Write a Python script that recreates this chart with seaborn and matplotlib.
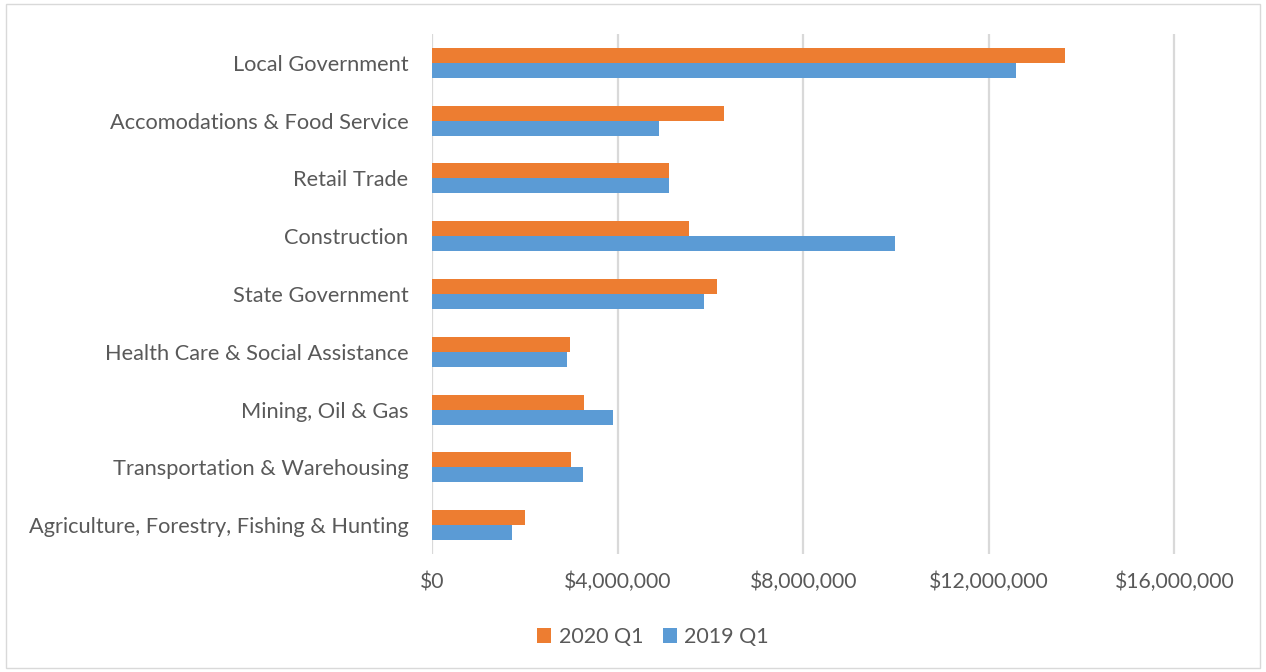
import matplotlib
matplotlib.use("Agg")
import matplotlib.pyplot as plt
import matplotlib.ticker as mticker
from matplotlib.patches import Rectangle, Patch
import seaborn as sns
import pandas as pd

categories = [
    "Local Government",
    "Accomodations & Food Service",
    "Retail Trade",
    "Construction",
    "State Government",
    "Health Care & Social Assistance",
    "Mining, Oil & Gas",
    "Transportation & Warehousing",
    "Agriculture, Forestry, Fishing & Hunting",
]
values_2020_q1 = [13650000, 6300000, 5100000, 5540000, 6150000, 2980000, 3270000, 3000000, 2000000]
values_2019_q1 = [12580000, 4900000, 5100000, 9970000, 5860000, 2900000, 3910000, 3250000, 1720000]
series_names = ["2020 Q1", "2019 Q1"]
x_ticks = [0, 4000000, 8000000, 12000000, 16000000]

colors = {"2020 Q1": "#ED7D31", "2019 Q1": "#5B9BD5"}

df = pd.DataFrame({
    "category": categories * 2,
    "value": values_2020_q1 + values_2019_q1,
    "series": [series_names[0]] * len(categories) + [series_names[1]] * len(categories),
})

sns.set_theme(style="white")
plt.rcParams["font.family"] = ["Lato", "DejaVu Sans"]

fig = plt.figure(figsize=(12.66, 6.72), dpi=100)
ax = fig.add_axes([432 / 1266, 1 - 554 / 672, (1244 - 432) / 1266, (554 - 34) / 672])

sns.barplot(data=df, y="category", x="value", hue="series", order=categories,
            hue_order=series_names, palette=colors, orient="h", width=0.52,
            ax=ax, legend=False, saturation=1, linewidth=0)

ax.set_xlim(0, 17.5e6)
ax.set_xticks(x_ticks)
ax.xaxis.set_major_formatter(mticker.FuncFormatter(lambda v, p: "${:,.0f}".format(v)))
ax.set_xlabel("")
ax.set_ylabel("")
ax.grid(axis="x", color="#d9d9d9", linewidth=1.6)
ax.set_axisbelow(True)
for s in ax.spines.values():
    s.set_visible(False)
ax.tick_params(axis="y", length=0, pad=17, labelsize=15.7, labelcolor="#595959")
ax.tick_params(axis="x", length=0, pad=13, labelsize=15.2, labelcolor="#595959")

handles = [Patch(facecolor=colors[s], edgecolor="none") for s in series_names]
fig.legend(handles, series_names, loc="center", bbox_to_anchor=(653 / 1266, 1 - 637 / 672),
           ncol=2, frameon=False, fontsize=15.5, labelcolor="#595959",
           handlelength=0.65, handleheight=0.65, handletextpad=0.35, columnspacing=0.9)

fig.patches.append(Rectangle((6 / 1266, 4 / 672), 1 - 12 / 1266, 1 - 8 / 672,
                             transform=fig.transFigure, fill=False,
                             edgecolor="#d9d9d9", linewidth=1))

fig.savefig("out.png", dpi=100)
